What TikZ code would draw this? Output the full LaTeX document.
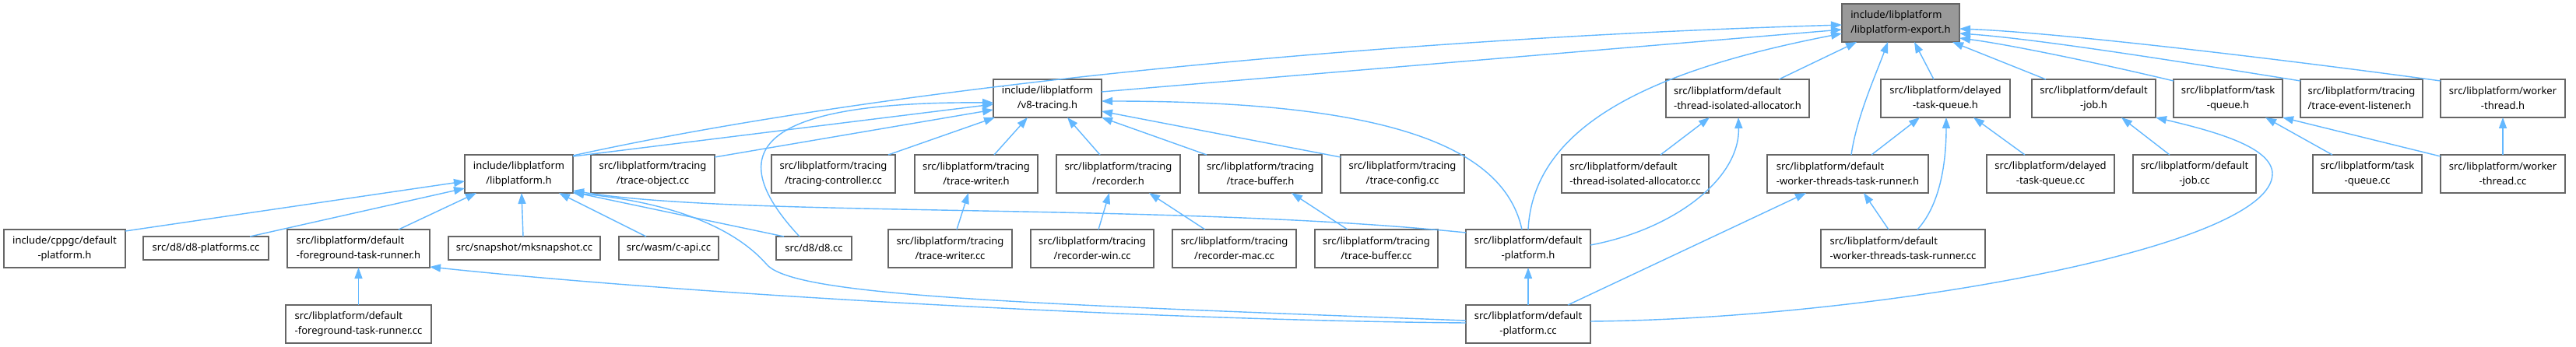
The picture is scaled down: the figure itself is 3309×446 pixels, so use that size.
\documentclass[tikz,border=0pt]{standalone}
\usepackage{fontspec}
\setmainfont{Noto Sans}
\usetikzlibrary{arrows.meta,calc}
\definecolor{edgeblue}{HTML}{63B8FF}
\definecolor{nodeborder}{HTML}{666666}
\definecolor{rootfill}{HTML}{999999}
\tikzset{
  box/.style={draw=nodeborder, line width=1.3pt, fill=white, rectangle, inner sep=0pt, outer sep=0pt,
    minimum height=49pt, font=\fontsize{13}{19}\selectfont, text=black},
  onebox/.style={box, minimum height=30pt},
  root/.style={box, fill=rootfill},
  lft/.style={align=left},
  ctr/.style={align=center},
  dep/.style={draw=edgeblue, line width=1.4pt, -{Triangle[length=14pt,width=10pt]}},
}
\begin{document}
\begin{tikzpicture}[x=1pt,y=-1pt]
\fill[white] (0,0) rectangle (3309,446);
\useasboundingbox (0,0) rectangle (3309,446);

% row 1
\node[root, lft, minimum width=151pt] (E) at (2441.5,29.5) {include/libplatform\\/libplatform-export.h};
% row 2
\node[box, ctr, minimum width=139pt] (V) at (1345.5,126.5) {include/libplatform\\/v8-tracing.h};
\node[box, lft, minimum width=184pt] (TIAh) at (2232,126.5) {src/libplatform/default\\-thread-isolated-allocator.h};
\node[box, ctr, minimum width=166pt] (DTQh) at (2499,126.5) {src/libplatform/delayed\\-task-queue.h};
\node[box, ctr, minimum width=159pt] (JOBh) at (2689.5,126.5) {src/libplatform/default\\-job.h};
\node[box, ctr, minimum width=140pt] (TQh) at (2862,126.5) {src/libplatform/task\\-queue.h};
\node[box, lft, minimum width=157pt] (TEL) at (3033.5,126.5) {src/libplatform/tracing\\/trace-event-listener.h};
\node[box, ctr, minimum width=160pt] (WTh) at (3215,126.5) {src/libplatform/worker\\-thread.h};
% row 3
\node[box, ctr, minimum width=139pt] (L) at (666.5,223.5) {include/libplatform\\/libplatform.h};
\node[box, ctr, minimum width=159pt] (TO) at (838.5,223.5) {src/libplatform/tracing\\/trace-object.cc};
\node[box, ctr, minimum width=159pt] (TC) at (1070.5,223.5) {src/libplatform/tracing\\/tracing-controller.cc};
\node[box, ctr, minimum width=158pt] (TWh) at (1254,223.5) {src/libplatform/tracing\\/trace-writer.h};
\node[box, ctr, minimum width=159pt] (RECh) at (1436.5,223.5) {src/libplatform/tracing\\/recorder.h};
\node[box, ctr, minimum width=158pt] (TBh) at (1619,223.5) {src/libplatform/tracing\\/trace-buffer.h};
\node[box, ctr, minimum width=159pt] (TCF) at (1801.5,223.5) {src/libplatform/tracing\\/trace-config.cc};
\node[box, lft, minimum width=189pt] (TIAcc) at (2100.5,223.5) {src/libplatform/default\\-thread-isolated-allocator.cc};
\node[box, lft, minimum width=207pt] (WTTRh) at (2373.5,223.5) {src/libplatform/default\\-worker-threads-task-runner.h};
\node[box, ctr, minimum width=164pt] (DTQcc) at (2634,223.5) {src/libplatform/delayed\\-task-queue.cc};
\node[box, ctr, minimum width=158pt] (JOBcc) at (2819,223.5) {src/libplatform/default\\-job.cc};
\node[box, ctr, minimum width=140pt] (TQcc) at (3041,223.5) {src/libplatform/task\\-queue.cc};
\node[box, ctr, minimum width=160pt] (WTcc) at (3215,223.5) {src/libplatform/worker\\-thread.cc};
% row 4
\node[box, ctr, minimum width=156pt] (CPP) at (83,319.5) {include/cppgc/default\\-platform.h};
\node[onebox, minimum width=161pt] (D8P) at (264.5,319) {src/d8/d8-platforms.cc};
\node[box, lft, minimum width=183pt] (FTRh) at (460.5,319.5) {src/libplatform/default\\-foreground-task-runner.h};
\node[onebox, minimum width=195pt] (MKS) at (673.5,319) {src/snapshot/mksnapshot.cc};
\node[onebox, minimum width=128pt] (CAPI) at (859,319) {src/wasm/c-api.cc};
\node[onebox, minimum width=97pt] (D8) at (1045.5,319) {src/d8/d8.cc};
\node[box, ctr, minimum width=159pt] (TWcc) at (1220.5,319.5) {src/libplatform/tracing\\/trace-writer.cc};
\node[box, ctr, minimum width=158pt] (RWIN) at (1403,319.5) {src/libplatform/tracing\\/recorder-win.cc};
\node[box, ctr, minimum width=159pt] (RMAC) at (1585.5,319.5) {src/libplatform/tracing\\/recorder-mac.cc};
\node[box, ctr, minimum width=158pt] (TBcc) at (1768,319.5) {src/libplatform/tracing\\/trace-buffer.cc};
\node[box, ctr, minimum width=160pt] (P) at (1963,319.5) {src/libplatform/default\\-platform.h};
\node[box, lft, minimum width=211pt] (WTTRcc) at (2444.5,319.5) {src/libplatform/default\\-worker-threads-task-runner.cc};
% row 5
\node[box, lft, minimum width=187pt] (FTRcc) at (460.5,416.5) {src/libplatform/default\\-foreground-task-runner.cc};
\node[box, ctr, minimum width=160pt] (PCC) at (1963,416.5) {src/libplatform/default\\-platform.cc};

% edges into libplatform-export.h
\draw[dep] ($(L.north west)+(139,1)$) .. controls (1136,112) and (1765,50) .. ($(E.north west)+(0,27)$);
\draw[dep] ($(V.north west)+(139,16)$) -- ($(E.north west)+(0,33)$);
\draw[dep] ($(P.north west)+(80,0)$) .. controls (1970,150) and (2150,85) .. ($(E.north west)+(0,38)$);
\draw[dep] ($(TIAh.north west)+(145,0)$) -- ($(E.north west)+(19,49)$);
\draw[dep] ($(WTTRh.north west)+(108,0)$) .. controls (2385,150) and (2410,95) .. ($(E.north west)+(59,49)$);
\draw[dep] ($(DTQh.north west)+(68,0)$) -- ($(E.north west)+(93,49)$);
\draw[dep] ($(JOBh.north west)+(18,0)$) -- ($(E.north west)+(142,49)$);
\draw[dep] ($(TQh.north west)+(0,2)$) .. controls (2700,82) and (2580,57) .. ($(E.north west)+(151,44)$);
\draw[dep] ($(TEL.north west)+(0,2)$) .. controls (2830,84) and (2620,50) .. ($(E.north west)+(151,38)$);
\draw[dep] ($(WTh.north west)+(0,2)$) .. controls (2960,80) and (2650,42) .. ($(E.north west)+(151,32)$);

% edges into v8-tracing.h
\draw[dep] ($(L.north west)+(139,2)$) -- ($(V.north west)+(0,32)$);
\draw[dep] ($(TO.north west)+(159,3)$) -- ($(V.north west)+(0,39)$);
\draw[dep] ($(D8.north west)+(30,0)$) .. controls (930,200) and (960,130) .. ($(V.north west)+(0,30)$);
\draw[dep] ($(TC.north west)+(150,0)$) -- ($(V.north west)+(2,49)$);
\draw[dep] ($(TWh.north west)+(102,0)$) -- ($(V.north west)+(44,49)$);
\draw[dep] ($(RECh.north west)+(56,0)$) -- ($(V.north west)+(95,49)$);
\draw[dep] ($(TBh.north west)+(10,0)$) -- ($(V.north west)+(139,49)$);
\draw[dep] ($(TCF.north west)+(0,3)$) -- ($(V.north west)+(139,41)$);
\draw[dep] ($(P.north west)+(72,0)$) .. controls (1930,180) and (1760,130) .. ($(V.north west)+(139,28)$);

% edges into libplatform.h
\draw[dep] ($(CPP.north west)+(156,2)$) -- ($(L.north west)+(0,34)$);
\draw[dep] ($(D8P.north west)+(137,0)$) -- ($(L.north west)+(0,43)$);
\draw[dep] ($(FTRh.north west)+(143,0)$) -- ($(L.north west)+(15,49)$);
\draw[dep] ($(MKS.north west)+(96,0)$) -- ($(L.north west)+(73,49)$);
\draw[dep] ($(CAPI.north west)+(35,0)$) -- ($(L.north west)+(121,49)$);
\draw[dep] ($(D8.north west)+(10,0)$) -- ($(L.north west)+(139,48)$);
\draw[dep] ($(PCC.north west)+(0,20)$) .. controls (1300,390) and (1020,380) .. (985,340) .. controls (950,300) and (880,262) .. ($(L.north west)+(139,49)$);
\draw[dep] ($(P.north west)+(0,4)$) .. controls (1500,260) and (950,280) .. ($(L.north west)+(139,46)$);

% other edges
\draw[dep] ($(TWcc.north west)+(88,0)$) -- ($(TWh.north west)+(69,49)$);
\draw[dep] ($(RWIN.north west)+(87,0)$) -- ($(RECh.north west)+(68,49)$);
\draw[dep] ($(RMAC.north west)+(42,0)$) -- ($(RECh.north west)+(119,49)$);
\draw[dep] ($(TBcc.north west)+(42,0)$) -- ($(TBh.north west)+(119,49)$);
\draw[dep] (PCC) -- (P);
\draw[dep] ($(TIAcc.north west)+(127,0)$) -- ($(TIAh.north west)+(56,49)$);
\draw[dep] ($(P.north west)+(160,20)$) .. controls (2150,295) and (2235,230) .. ($(TIAh.north west)+(93,49)$);
\draw[dep] ($(WTTRh.north west)+(134,0)$) -- ($(DTQh.north west)+(50,49)$);
\draw[dep] ($(WTTRcc.north west)+(124,0)$) .. controls (2495,260) and (2500,200) .. ($(DTQh.north west)+(84,49)$);
\draw[dep] ($(DTQcc.north west)+(49,0)$) -- ($(DTQh.north west)+(119,49)$);
\draw[dep] ($(WTTRcc.north west)+(87,0)$) -- ($(WTTRh.north west)+(124,49)$);
\draw[dep] ($(PCC.north west)+(131,0)$) -- ($(WTTRh.north west)+(50,49)$);
\draw[dep] ($(JOBcc.north west)+(47,0)$) -- ($(JOBh.north west)+(115,49)$);
\draw[dep] ($(PCC.north west)+(160,21)$) .. controls (2400,410) and (2920,320) .. (2919,223) .. controls (2918,190) and (2850,170) .. ($(JOBh.north west)+(159,49)$);
\draw[dep] ($(TQcc.north west)+(25,0)$) -- ($(TQh.north west)+(118,49)$);
\draw[dep] ($(WTcc.north west)+(0,2)$) -- ($(TQh.north west)+(140,49)$);
\draw[dep] (WTcc) -- (WTh);
\draw[dep] (FTRcc) -- (FTRh);
\draw[dep] ($(PCC.north west)+(0,23)$) .. controls (1500,412) and (900,380) .. ($(FTRh.north west)+(183,48)$);
\end{tikzpicture}
\end{document}
